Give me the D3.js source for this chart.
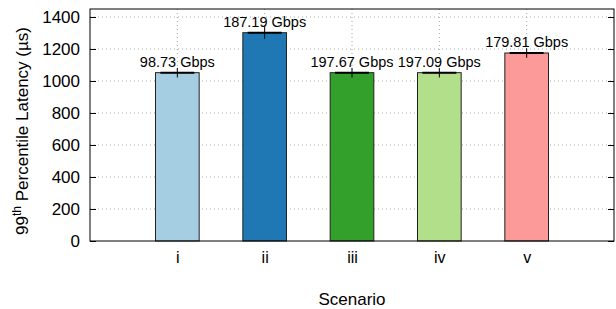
<!DOCTYPE html>
<html><head><meta charset="utf-8">
<script src="https://cdn.jsdelivr.net/npm/d3@7"></script>
<style>body{margin:0;background:#fff}svg{display:block;font-family:"Liberation Sans",Arial,sans-serif}</style>
</head><body><div id="c"></div>
<script>
const categories = ["i","ii","iii","iv","v"];
const latency = [1052, 1302, 1052, 1052, 1175];
const errors = [30, 38, 30, 30, 30];
const labels = ["98.73 Gbps","187.19 Gbps","197.67 Gbps","197.09 Gbps","179.81 Gbps"];
const colors = ["#a6cee3","#1f78b4","#33a02c","#b2df8a","#fb9a99"];
const yTicks = [0,200,400,600,800,1000,1200,1400];

const W=616,H=309, L=90, R=614, T=9, B=241;
const svg=d3.select("#c").append("svg").attr("width",W).attr("height",H);
const x=d3.scaleLinear().domain([0,categories.length+1]).range([L,R]);
const y=d3.scaleLinear().domain([0,1450]).range([B,T]);
const bw = x(0.5)-x(0);

// grid
const g=svg.append("g");
g.selectAll(".hg").data(yTicks.filter(d=>d>0)).join("line")
 .attr("x1",L).attr("x2",R).attr("y1",d=>y(d)).attr("y2",d=>y(d))
 .attr("stroke","#aaa").attr("stroke-width",1).attr("stroke-dasharray","1,3");
g.selectAll(".vg").data(categories).join("line")
 .attr("x1",(d,i)=>x(i+1)).attr("x2",(d,i)=>x(i+1)).attr("y1",T).attr("y2",B)
 .attr("stroke","#aaa").attr("stroke-width",1).attr("stroke-dasharray","1,3");

// bars
svg.selectAll(".bar").data(latency).join("rect")
 .attr("x",(d,i)=>x(i+1)-bw/2).attr("width",bw)
 .attr("y",d=>y(d)).attr("height",d=>B-y(d))
 .attr("fill",(d,i)=>colors[i]).attr("stroke","#222").attr("stroke-width",1);

// error bars
svg.selectAll(".ev").data(latency).join("line")
 .attr("x1",(d,i)=>x(i+1)).attr("x2",(d,i)=>x(i+1))
 .attr("y1",(d,i)=>y(d+errors[i])).attr("y2",(d,i)=>y(d-errors[i]))
 .attr("stroke","#000").attr("stroke-width",1);
svg.selectAll(".ec").data(latency).join("line")
 .attr("x1",(d,i)=>x(i+1)-17).attr("x2",(d,i)=>x(i+1)+17)
 .attr("y1",d=>y(d)).attr("y2",d=>y(d))
 .attr("stroke","#000").attr("stroke-width",2);

// value labels
svg.selectAll(".vl").data(latency).join("text")
 .attr("x",(d,i)=>x(i+1)).attr("y",d=>y(d)-6)
 .attr("text-anchor","middle").attr("font-size",14.5).attr("fill","#000")
 .text((d,i)=>labels[i]);

// frame
svg.append("rect").attr("x",L).attr("y",T).attr("width",R-L).attr("height",B-T)
 .attr("fill","none").attr("stroke","#000").attr("stroke-width",1);

// y axis
const ya=svg.append("g").attr("transform",`translate(${L},0)`)
 .call(d3.axisLeft(y).tickValues(yTicks).tickFormat(d3.format("d")).tickSizeInner(-6).tickSizeOuter(0).tickPadding(10));
ya.select(".domain").remove();
ya.selectAll("text").attr("font-size",17).attr("font-family","Liberation Sans, Arial, sans-serif").attr("fill","#000");
ya.selectAll("line").attr("stroke","#000");
const yr=svg.append("g").attr("transform",`translate(${R},0)`)
 .call(d3.axisRight(y).tickValues(yTicks).tickSizeInner(-6).tickSizeOuter(0).tickFormat(""));
yr.select(".domain").remove();
yr.selectAll("line").attr("stroke","#000");

// x axis labels
const xa=svg.append("g").attr("transform",`translate(0,${B})`)
 .call(d3.axisBottom(x).tickValues(categories.map((c,i)=>i+1)).tickFormat((d)=>categories[d-1]).tickSize(0).tickPadding(11));
xa.select(".domain").remove();
xa.selectAll("text").attr("font-size",16).attr("font-family","Liberation Sans, Arial, sans-serif").attr("fill","#000");

svg.append("text").attr("x",(L+R)/2).attr("y",305).attr("text-anchor","middle")
 .attr("font-size",17).text("Scenario");

const yl=svg.append("text").attr("transform","translate(28,131) rotate(-90)")
 .attr("text-anchor","middle").attr("font-size",17);
yl.append("tspan").text("99");
yl.append("tspan").attr("font-size",12).attr("dy",-7).text("th");
yl.append("tspan").attr("dy",7).text(" Percentile Latency (µs)");
</script></body></html>
